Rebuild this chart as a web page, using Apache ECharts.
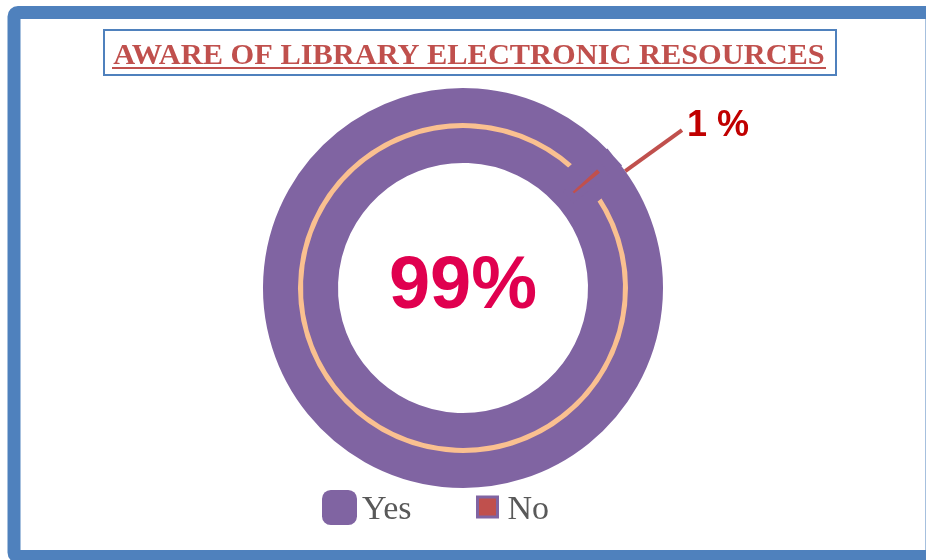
<!DOCTYPE html>
<html>
<head>
<meta charset="utf-8">
<title>Aware of library electronic resources</title>
<script src="https://cdn.jsdelivr.net/npm/echarts@6/dist/echarts.min.js"></script>
<style>
  html, body { margin: 0; padding: 0; background: #fff; }
  #main { width: 926px; height: 560px; }
</style>
</head>
<body>
<div id="main"></div>
<script>
// data
var categories = ['Yes', 'No'];
var values = [99, 1];
var chartTitle = 'AWARE OF LIBRARY ELECTRONIC RESOURCES';

// office 2007 colours
var purple = '#8064a2';
var orange = '#fac090';
var red = '#c0504d';
var blue = '#4f81bd';

// ring geometry: the slices are drawn as a thin orange band with a fat purple border,
// the way the excel chart did it, so the visible ring runs R_IN..R_OUT
var CENTER = [463, 288];
var BORDER = 35;
var R_IN = 125;
var R_OUT = 200;

var myChart = echarts.init(document.getElementById('main'));

var pieData = [];
for (var i = 0; i < categories.length; i++) {
  pieData.push({ name: categories[i], value: values[i] });
}
// Yes: 99% written in the hole
pieData[0].itemStyle = { color: orange, borderColor: purple, borderWidth: BORDER, borderJoin: 'miter' };
pieData[0].label = {
  show: true, position: 'center', formatter: '{d}%',
  fontFamily: 'Liberation Sans', fontWeight: 'bold', fontSize: 74, color: '#e0004f'
};
pieData[0].labelLine = { show: false };
// No: thin red sliver with a leader line out to the label
pieData[1].itemStyle = { color: red, borderColor: purple, borderWidth: 7, borderJoin: 'miter' };
pieData[1].label = {
  show: true, position: 'outside', formatter: '{d} %',
  fontFamily: 'Liberation Sans', fontWeight: 'bold', fontSize: 36, color: '#c00000'
};
pieData[1].labelLine = { show: true, lineStyle: { color: red, width: 4 } };

// legend text, pushed down a little so it sits like excel's
var legendRich = {
  t: { fontFamily: 'Liberation Serif', fontSize: 34, color: '#595959', padding: [6, 0, 0, 0] },
  n: { fontFamily: 'Liberation Serif', fontSize: 34, color: '#595959', padding: [6, 0, 0, 5] }
};

myChart.setOption({
  animation: false,
  graphic: [
    // outer frame, the right and bottom sides run off the picture
    {
      type: 'rect', z: 0,
      shape: { x: 14, y: 12.5, width: 918, height: 544, r: 4 },
      style: { fill: 'none', stroke: blue, lineWidth: 13 }
    },
    // title box
    {
      type: 'rect', z: 0,
      shape: { x: 104, y: 30, width: 732, height: 45 },
      style: { fill: '#fff', stroke: blue, lineWidth: 2 }
    },
    {
      type: 'text', z: 1,
      x: 469, y: 56,
      style: {
        text: chartTitle, fill: red, align: 'center', verticalAlign: 'middle',
        font: 'bold 30.4px "Liberation Serif"'
      }
    },
    // underline
    {
      type: 'line', z: 1,
      shape: { x1: 112, y1: 68, x2: 826, y2: 68 },
      style: { stroke: red, lineWidth: 2 }
    }
  ],
  legend: [
    {
      data: [{ name: 'Yes', icon: 'roundRect', itemStyle: { color: purple, borderWidth: 0 } }],
      left: 322, top: 490, padding: 0,
      itemWidth: 35, itemHeight: 35,
      selectedMode: false,
      formatter: '{t|{name}}',
      textStyle: { rich: legendRich }
    },
    {
      data: [{ name: 'No', icon: 'rect', itemStyle: { color: red, borderColor: purple, borderWidth: 3 } }],
      left: 476, top: 493, padding: 0,
      itemWidth: 20, itemHeight: 20,
      selectedMode: false,
      formatter: '{n|{name}}',
      textStyle: { rich: legendRich }
    }
  ],
  series: [{
    type: 'pie',
    center: CENTER,
    radius: [R_IN + BORDER / 2, R_OUT - BORDER / 2],
    startAngle: 39,
    avoidLabelOverlap: false,
    emphasis: { disabled: true },
    labelLayout: function (params) {
      if (params.dataIndex !== 1 || !params.labelLinePoints) return;
      var p0 = params.labelLinePoints[0];
      // excel hooks the leader a few degrees past the sliver, on the ring's outer edge
      var a = Math.atan2(p0[1] - CENTER[1], p0[0] - CENTER[0]) + 5 * Math.PI / 180;
      var start = [CENTER[0] + R_OUT * Math.cos(a), CENTER[1] + R_OUT * Math.sin(a)];
      var end = [CENTER[0] + (R_OUT + 70) * Math.cos(a), CENTER[1] + (R_OUT + 70) * Math.sin(a)];
      return {
        x: end[0] + 5, y: end[1] - 4,
        align: 'left', verticalAlign: 'middle',
        labelLinePoints: [start, end, end]
      };
    },
    data: pieData
  }]
});
</script>
</body>
</html>
